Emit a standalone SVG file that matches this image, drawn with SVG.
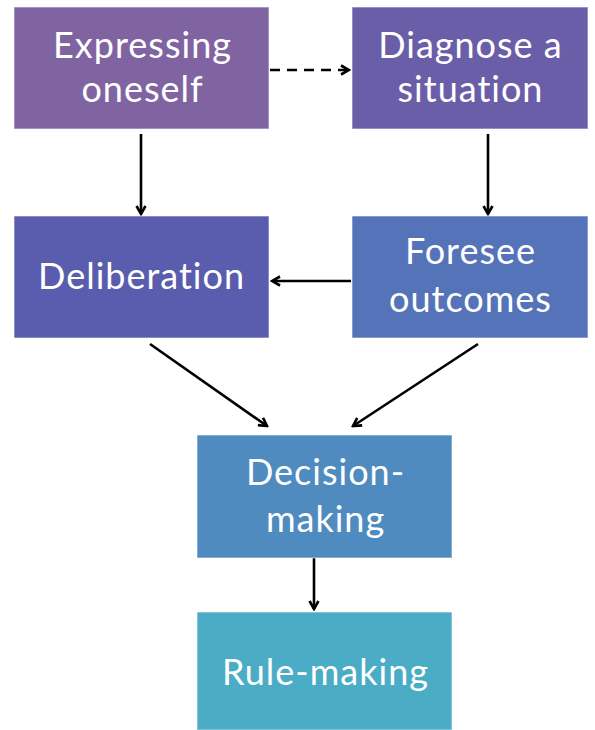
<svg xmlns="http://www.w3.org/2000/svg" width="595" height="730" viewBox="0 0 595 730">
<defs>
<style>
.box{stroke:#ffffff;stroke-opacity:0.6;stroke-width:1}
.lbl{font-family:Lato,"Open Sans","Liberation Sans",sans-serif;font-size:36px;letter-spacing:1px;font-variant-ligatures:none;fill:#ffffff;text-anchor:middle}
.con{stroke:#000000;stroke-width:2.6;fill:none;marker-end:url(#ah)}
</style>
<marker id="ah" viewBox="0 0 12 12" refX="10" refY="6" markerWidth="12" markerHeight="12" markerUnits="userSpaceOnUse" orient="auto">
<polyline points="2,1.5 10,6 2,10.5" fill="none" stroke="#000" stroke-width="2.6" stroke-linejoin="miter"/>
</marker>
</defs>
<rect width="595" height="730" fill="#ffffff"/>
<g id="connectors">
<line class="con" x1="270" y1="70" x2="349" y2="70" stroke-dasharray="10,7"/>
<line class="con" x1="141" y1="134" x2="141" y2="214"/>
<line class="con" x1="488" y1="134" x2="488" y2="214"/>
<line class="con" x1="351" y1="281" x2="272" y2="281"/>
<line class="con" x1="150" y1="344" x2="267" y2="426"/>
<line class="con" x1="478" y1="344" x2="353" y2="426"/>
<line class="con" x1="314" y1="558" x2="314" y2="609"/>
</g>
<g id="expressing">
<rect class="box" x="14" y="7" width="255" height="122" fill="#8064A2"/>
<text class="lbl" x="142.5" y="57.5">Expressing</text>
<text class="lbl" x="142.5" y="101.5">oneself</text>
</g>
<g id="diagnose">
<rect class="box" x="352" y="7" width="236" height="122" fill="#6B5EA8"/>
<text class="lbl" x="470.5" y="57.5">Diagnose a</text>
<text class="lbl" x="470.5" y="101.5">situation</text>
</g>
<g id="deliberation">
<rect class="box" x="14" y="216" width="255" height="122" fill="#5A5DAE"/>
<text class="lbl" x="141.5" y="289">Deliberation</text>
</g>
<g id="foresee">
<rect class="box" x="352" y="216" width="236" height="122" fill="#5573B9"/>
<text class="lbl" x="470.5" y="264">Foresee</text>
<text class="lbl" x="470.5" y="312">outcomes</text>
</g>
<g id="decision">
<rect class="box" x="197" y="435" width="255" height="123" fill="#4F8BBF"/>
<text class="lbl" x="325.5" y="485">Decision-</text>
<text class="lbl" x="325.5" y="532">making</text>
</g>
<g id="rule">
<rect class="box" x="197" y="612" width="255" height="118" fill="#4BACC6"/>
<text class="lbl" x="325.5" y="685">Rule-making</text>
</g>
</svg>
